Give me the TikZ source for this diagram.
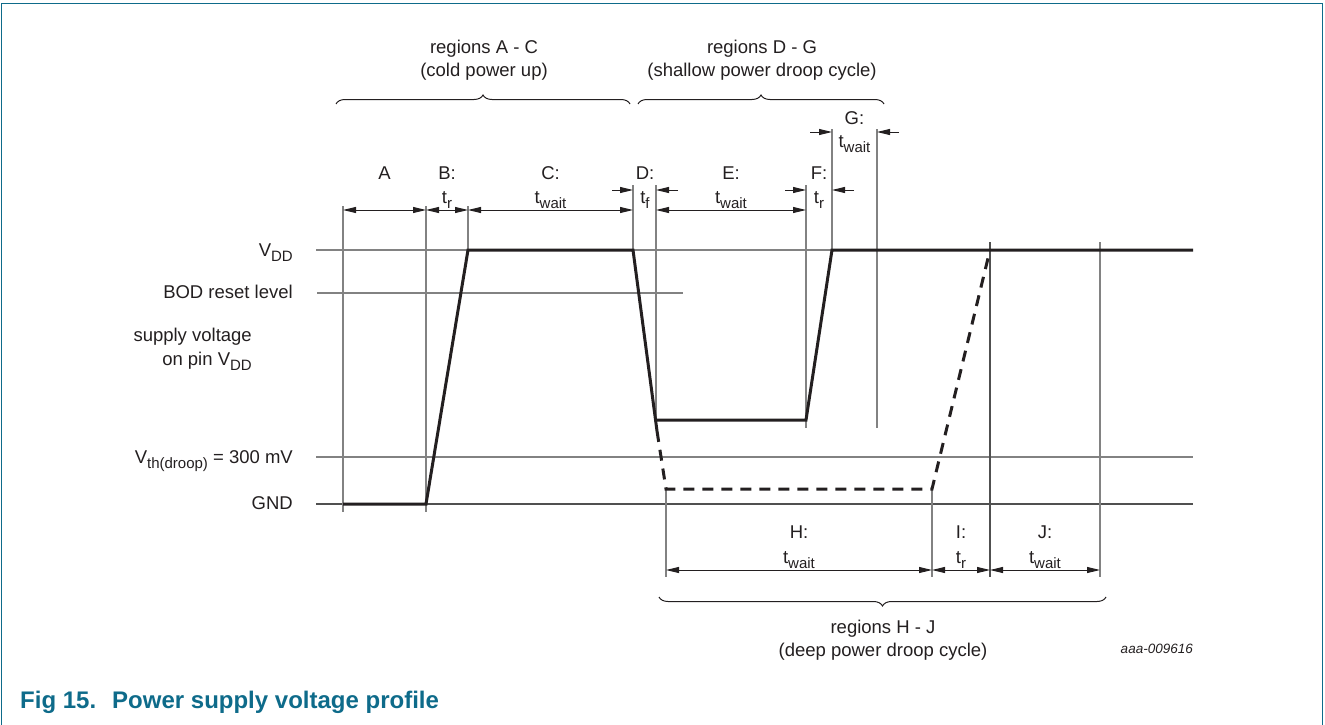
\documentclass[tikz,border=0pt]{standalone}
\usepackage{fontspec}
\setmainfont{Liberation Sans}
\usetikzlibrary{arrows.meta,decorations.pathreplacing}
\definecolor{nxpteal}{RGB}{14,107,138}
\definecolor{gridgray}{RGB}{130,130,130}
\definecolor{darkgray}{RGB}{80,80,80}
\definecolor{ink}{RGB}{35,31,32}
\newcommand{\lowsub}[1]{\raisebox{-0.3em}{\fontsize{15}{18}\selectfont #1}}
\begin{document}
\begin{tikzpicture}[x=1pt,y=-1pt,
  lbl/.style={font=\fontsize{18.5}{22}\selectfont, inner sep=0pt, text=ink},
  gline/.style={draw=gridgray, line width=1.2pt},
  dline/.style={draw=darkgray, line width=1.2pt},
  trace/.style={draw=ink, line width=3pt, line join=miter, miter limit=3},
  droop/.style={trace, dash pattern=on 11pt off 8pt},
  dimline/.style={draw=ink, line width=1pt, {Triangle[length=13pt,width=6pt]}-{Triangle[length=13pt,width=6pt]}},
  inarrow/.style={draw=ink, line width=1pt, -{Triangle[length=13pt,width=6pt]}},
  curly/.style={draw=ink, line width=1pt, decorate, decoration={brace, amplitude=9pt}},
]
\useasboundingbox (0,0) rectangle (1325,725);
% frame
\draw[nxpteal, line width=1.6pt] (1.5,725) -- (1.5,3.5) -- (1322.5,3.5) -- (1322.5,725);

% horizontal level lines
\draw[gline] (316,250) -- (1193,250);
\draw[gline] (317,293) -- (683,293);
\draw[gline] (316,457) -- (1193,457);
\draw[dline] (316,504) -- (1193,504);

% vertical guides
\draw[gline] (343,206) -- (343,512);
\draw[gline] (426,206) -- (426,512);
\draw[gline] (468,206) -- (468,250);
\draw[gline] (633,185) -- (633,250);
\draw[gline] (656,185) -- (656,422);
\draw[gline] (806,185) -- (806,428);
\draw[gline] (832,129) -- (832,250);
\draw[gline] (877,129) -- (877,428);
\draw[gline] (666,490) -- (666,577);
\draw[gline] (932,490) -- (932,577);
\draw[dline] (990,242) -- (990,577);
\draw[gline] (1100,242) -- (1100,577);

% trace
\coordinate (p0) at (343,504);
\coordinate (p1) at (426,504);
\coordinate (p2) at (468,250);
\coordinate (p3) at (633,250);
\coordinate (p4) at (657,431);
\coordinate (p5) at (655.5,420);
\coordinate (p6) at (806,420);
\coordinate (p7) at (832,250);
\coordinate (p8) at (1193,250);
\coordinate (q1) at (666,489);
\coordinate (q2) at (932,489);
\coordinate (q3) at (990,250);
\draw[trace] (p0) -- (p1) -- (p2) -- (p3) -- (p4);
\draw[trace] (p5) -- (p6) -- (p7) -- (p8);
\draw[droop] (p4) -- (q1) -- (q2) -- (q3);

% dimension arrows top
\draw[dimline] (343,210) -- (426,210);
\draw[dimline] (426,210) -- (468,210);
\draw[dimline] (468,210) -- (633,210);
\draw[dimline] (656,210) -- (806,210);
\draw[inarrow] (612,190) -- (633,190);
\draw[inarrow] (678,190) -- (656,190);
\draw[inarrow] (785,190) -- (806,190);
\draw[inarrow] (854,190) -- (832,190);
\draw[inarrow] (810,132) -- (832,132);
\draw[inarrow] (899,132) -- (877,132);
% dimension arrows bottom
\draw[dimline] (666,570) -- (932,570);
\draw[dimline] (932,570) -- (990,570);
\draw[dimline] (990,570) -- (1100,570);

% braces
\draw[curly] (336,104) -- (630,104);
\draw[curly] (638,104) -- (884,104);
\draw[curly, decoration={brace, amplitude=9pt, mirror}] (659,597) -- (1106,597);

% top labels
\node[lbl, anchor=base] (lA) at (384.5,179) {A};
\node[lbl, anchor=base] (lB) at (447,179) {B:};
\node[lbl, anchor=base] (lBt) at (447,203) {t\lowsub{r}};
\node[lbl, anchor=base] (lC) at (550.5,179) {C:};
\node[lbl, anchor=base] (lCt) at (550.5,203) {t\lowsub{wait}};
\node[lbl, anchor=base] (lD) at (645,179) {D:};
\node[lbl, anchor=base] (lDt) at (645,203) {t\lowsub{f}};
\node[lbl, anchor=base] (lE) at (731,179) {E:};
\node[lbl, anchor=base] (lEt) at (731,203) {t\lowsub{wait}};
\node[lbl, anchor=base] (lF) at (819,179) {F:};
\node[lbl, anchor=base] (lFt) at (819,203) {t\lowsub{r}};
\node[lbl, anchor=base] (lG) at (854.5,124) {G:};
\node[lbl, anchor=base] (lGt) at (854.5,147) {t\lowsub{wait}};
% bottom labels
\node[lbl, anchor=base] (lH) at (799,538) {H:};
\node[lbl, anchor=base] (lHt) at (799,563) {t\lowsub{wait}};
\node[lbl, anchor=base] (lI) at (961,538) {I:};
\node[lbl, anchor=base] (lIt) at (961,563) {t\lowsub{r}};
\node[lbl, anchor=base] (lJ) at (1045,538) {J:};
\node[lbl, anchor=base] (lJt) at (1045,563) {t\lowsub{wait}};
% region labels
\node[lbl, anchor=base] (rAC1) at (484,53.5) {regions A - C};
\node[lbl, anchor=base] (rAC2) at (484,76.5) {(cold power up)};
\node[lbl, anchor=base] (rDG1) at (762,53.5) {regions D - G};
\node[lbl, anchor=base] (rDG2) at (762,76.5) {(shallow power droop cycle)};
\node[lbl, anchor=base] (rHJ1) at (883,633) {regions H - J};
\node[lbl, anchor=base] (rHJ2) at (883,656) {(deep power droop cycle)};
% level labels
\node[lbl, anchor=base east] (vdd) at (293,256) {V\lowsub{DD}};
\node[lbl, anchor=base east] (bod) at (293,298) {BOD reset level};
\node[lbl, anchor=base east] (sup1) at (252,341.5) {supply voltage};
\node[lbl, anchor=base east] (sup2) at (252,365) {on pin V\lowsub{DD}};
\node[lbl, anchor=base east] (vth) at (293,463) {V\lowsub{th(droop)} = 300 mV};
\node[lbl, anchor=base east] (gnd) at (293,509) {GND};
% id
\node[inner sep=0pt, anchor=base east, text=ink, font=\fontsize{13.5}{16}\selectfont\itshape] (fid) at (1193,653) {aaa-009616};
% caption
\node[inner sep=0pt, anchor=base west, text=nxpteal, font=\fontsize{24}{28}\selectfont\bfseries] (cap) at (20,708) {Fig 15.\hspace{16pt}Power supply voltage profile};
\end{tikzpicture}
\end{document}
